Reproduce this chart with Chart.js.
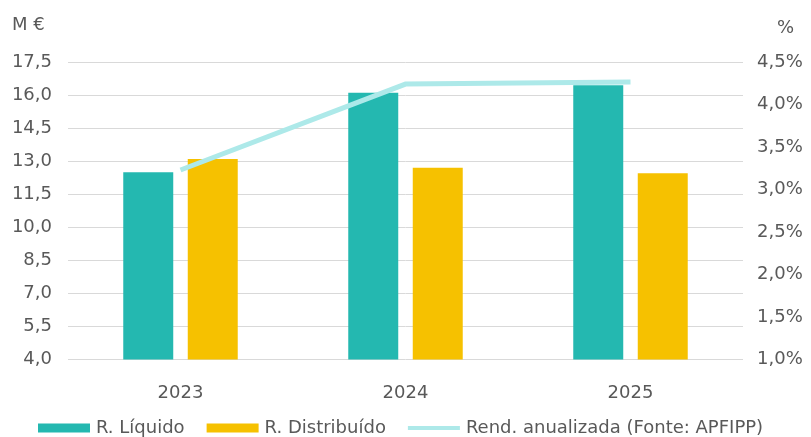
<!DOCTYPE html>
<html>
<head>
<meta charset="utf-8">
<script src="https://cdn.jsdelivr.net/npm/chart.js@4"></script>
<style>
  html, body { margin: 0; padding: 0; background: #ffffff; }
  #wrap { width: 811px; height: 437px; position: relative; }
</style>
</head>
<body>
<div id="wrap"><canvas id="c" width="811" height="437"></canvas></div>
<script>
// Anos e séries (M€ e %)
const years = ['2023', '2024', '2025'];
const liquido = [12.5, 16.1, 16.45];
const distribuido = [13.1, 12.7, 12.45];
const rendimento = [3.23, 4.24, 4.265];
const seriesNames = ['R. Líquido', 'R. Distribuído', 'Rend. anualizada (Fonte: APFIPP)'];
const leftTicks = [4.0, 5.5, 7.0, 8.5, 10.0, 11.5, 13.0, 14.5, 16.0, 17.5];
const rightTicks = [1.0, 1.5, 2.0, 2.5, 3.0, 3.5, 4.0, 4.5];
const unitLeft = 'M €';
const unitRight = '%';

const TEAL = '#24b8b0';
const GOLD = '#f6c100';
const CYAN = '#ade9e9';
const TEXT = '#595959';
const FONT = "'DejaVu Sans', Verdana, sans-serif";
const FS = 18;

const fmt1 = v => v.toFixed(1).replace('.', ',');

// Títulos das unidades e legenda desenhados no canvas
const extras = {
  id: 'extras',
  afterDraw(chart, args, opts) {
    const ctx = chart.ctx;
    ctx.save();
    ctx.fillStyle = TEXT;
    ctx.font = `${FS}px ${FONT}`;
    ctx.textBaseline = 'middle';
    ctx.textAlign = 'left';
    ctx.fillText(unitLeft, 12, 25);
    ctx.fillText(unitRight, 777, 28);

    // legenda
    let x = opts.startX;
    const y = opts.y;
    chart.data.datasets.forEach(ds => {
      if (ds.type === 'line') {
        ctx.fillStyle = ds.borderColor;
        ctx.fillRect(x, y - 2, 52, 4);
      } else {
        ctx.fillStyle = ds.backgroundColor;
        ctx.fillRect(x, y - 4.5, 52, 9);
      }
      x += 52 + 6;
      ctx.fillStyle = TEXT;
      ctx.fillText(ds.label, x, y);
      x += ctx.measureText(ds.label).width + 22;
    });
    ctx.restore();
  }
};

new Chart(document.getElementById('c'), {
  data: {
    labels: years,
    datasets: [
      {
        type: 'bar', label: seriesNames[0], data: liquido,
        backgroundColor: TEAL, yAxisID: 'y', order: 1,
        categoryPercentage: 0.5733, barPercentage: 0.775
      },
      {
        type: 'bar', label: seriesNames[1], data: distribuido,
        backgroundColor: GOLD, yAxisID: 'y', order: 1,
        categoryPercentage: 0.5733, barPercentage: 0.775
      },
      {
        type: 'line', label: seriesNames[2], data: rendimento,
        borderColor: CYAN, backgroundColor: CYAN, borderWidth: 5,
        pointRadius: 0, tension: 0, yAxisID: 'y1', order: 0,
        borderCapStyle: 'butt'
      }
    ]
  },
  options: {
    responsive: false,
    animation: false,
    layout: { padding: { top: 62, left: 0, right: 0, bottom: 0 } },
    plugins: {
      legend: { display: false },
      tooltip: { enabled: false },
      extras: { startX: 38, y: 428 }
    },
    scales: {
      x: {
        grid: { display: false },
        border: { display: false },
        ticks: { color: TEXT, font: { family: FONT, size: FS }, padding: 15 },
        afterFit: s => { s.height = 77.4; }
      },
      y: {
        position: 'left',
        min: 4, max: 17.5,
        afterBuildTicks: s => { s.ticks = leftTicks.map(v => ({ value: v })); },
        ticks: { color: TEXT, font: { family: FONT, size: FS }, padding: 16, callback: v => fmt1(v) },
        grid: { color: '#d9d9d9', lineWidth: 1, drawTicks: false },
        border: { display: false },
        afterFit: s => { s.width = 68; }
      },
      y1: {
        position: 'right',
        min: 1, max: 4.5,
        afterBuildTicks: s => { s.ticks = rightTicks.map(v => ({ value: v })); },
        ticks: { color: TEXT, font: { family: FONT, size: FS }, padding: 14, callback: v => fmt1(v) + '%' },
        grid: { display: false, drawTicks: false },
        border: { display: false },
        afterFit: s => { s.width = 68; }
      }
    }
  },
  plugins: [extras]
});
</script>
</body>
</html>
